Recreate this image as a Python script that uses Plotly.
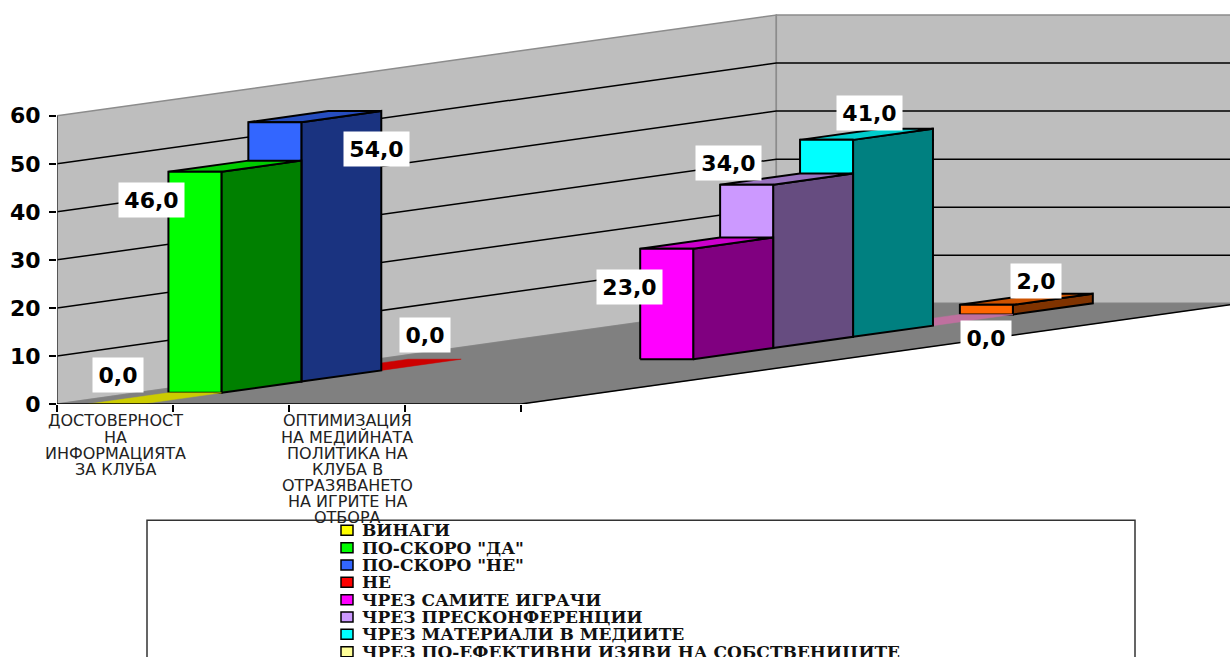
import plotly.graph_objects as go

# Survey results: one group of series per question, each series in its own depth row
category_labels = [
    ["ДОСТОВЕРНОСТ", "НА", "ИНФОРМАЦИЯТА", "ЗА КЛУБА"],
    ["ОПТИМИЗАЦИЯ", "НА МЕДИЙНАТА", "ПОЛИТИКА НА", "КЛУБА В", "ОТРАЗЯВАНЕТО", "НА ИГРИТЕ НА", "ОТБОРА"],
]
category_slots = [0, 2]
series_names = ["ВИНАГИ", 'ПО-СКОРО "ДА"', 'ПО-СКОРО "НЕ"', "НЕ", "ЧРЕЗ САМИТЕ ИГРАЧИ",
                "ЧРЕЗ ПРЕСКОНФЕРЕНЦИИ", "ЧРЕЗ МАТЕРИАЛИ В МЕДИИТЕ",
                "ЧРЕЗ ПО-ЕФЕКТИВНИ ИЗЯВИ НА СОБСТВЕНИЦИТЕ", "ЧРЕЗ ДРУГИ"]
series_slot = [0, 0, 0, 0, 2, 2, 2, 2, 2]
series_values = [0, 46, 54, 0, 23, 34, 41, 0, 2]
value_ticks = [0, 10, 20, 30, 40, 50, 60]

front_colors = ["#FFFF00", "#00FF00", "#3366FF", "#FF0000", "#FF00FF", "#CC99FF", "#00FFFF", "#FFFF99", "#FF6600"]
side_colors = ["#808000", "#008000", "#1A3380", "#800000", "#800080", "#664C80", "#008080", "#80804C", "#803300"]
top_colors = ["#CCCC00", "#00CC00", "#264DBF", "#CC0000", "#CC00CC", "#9973BF", "#00CCCC", "#BF709F", "#CC5200"]
label_shift = [(3, 29), (-43, -28), (102, -27), (70, 35), (-37, -38), (-18, 22), (43, 27), (80, -12), (50, 24)]

PAGE_W, PAGE_H = 1230, 657
LEFT, BASE = 57, 404.5
UNIT_X, UNIT_Y = 116, 4.81          # pixels per category slot and per value unit
DEPTH_X, DEPTH_Y = 0.689, 2.33      # oblique shift of one depth row, in axis units
ROWS, SLOTS = len(series_values), 4
BAR = 0.457
TOP = value_ticks[-1]


def project(slot, row, value):
    return slot + row * DEPTH_X, value + row * DEPTH_Y


def face(corners):
    pts = [project(*c) for c in corners]
    xs = [p[0] for p in pts] + [pts[0][0]]
    ys = [p[1] for p in pts] + [pts[0][1]]
    return xs, ys


def poly(fig, corners, fill, line="#000000", width=2):
    xs, ys = face(corners)
    fig.add_trace(go.Scatter(x=xs, y=ys, mode="lines", fill="toself", fillcolor=fill,
                             line=dict(color=line, width=width), hoverinfo="skip", showlegend=False))


def px_x(p):
    return (p - LEFT) / (PAGE_W - LEFT)


def px_y(p):
    return (BASE - p) / BASE


fig = go.Figure()

# Walls and floor
poly(fig, [(0, 0, 0), (0, ROWS, 0), (0, ROWS, TOP), (0, 0, TOP)], "#BEBEBE", "#8C8C8C", 1.5)
poly(fig, [(0, ROWS, 0), (SLOTS, ROWS, 0), (SLOTS, ROWS, TOP), (0, ROWS, TOP)], "#BEBEBE", "#8C8C8C", 1.5)
poly(fig, [(0, 0, 0), (SLOTS, 0, 0), (SLOTS, ROWS, 0), (0, ROWS, 0)], "#808080", "#808080", 0.5)

# Gridlines run along the side wall and then across the back wall
for tick in value_ticks[1:-1]:
    xs, ys = zip(*[project(0, 0, tick), project(0, ROWS, tick), project(SLOTS, ROWS, tick)])
    fig.add_trace(go.Scatter(x=xs, y=ys, mode="lines", line=dict(color="#000000", width=1.5),
                             hoverinfo="skip", showlegend=False))

# Front edge of the floor on the right
xs, ys = zip(*[project(SLOTS, 0, 0), project(SLOTS, ROWS, 0)])
fig.add_trace(go.Scatter(x=xs, y=ys, mode="lines", line=dict(color="#000000", width=1.5),
                         hoverinfo="skip", showlegend=False))
fig.add_trace(go.Scatter(x=[0, 0], y=[0, TOP], mode="lines", line=dict(color="#404040", width=1.5),
                         hoverinfo="skip", showlegend=False))

# Bars, farthest row first so nearer ones cover them
for row in reversed(range(ROWS)):
    v = series_values[row]
    a = series_slot[row] + (1 - BAR) / 2
    b = a + BAR
    if v > 0:
        poly(fig, [(b, row, 0), (b, row + 1, 0), (b, row + 1, v), (b, row, v)], side_colors[row])
    poly(fig, [(a, row, v), (b, row, v), (b, row + 1, v), (a, row + 1, v)], top_colors[row],
         "#000000" if v > 0 else top_colors[row], 2 if v > 0 else 0.5)
    if v > 0:
        poly(fig, [(a, row, 0), (b, row, 0), (b, row, v), (a, row, v)], front_colors[row])

annotations = []

# Value labels on white plates
for row, v in enumerate(series_values):
    cx, cy = project(series_slot[row] + 0.5, row, v)
    text = f"{v:.1f}".replace(".", ",")
    annotations.append(dict(x=cx, y=cy, xref="x", yref="y", text=f"<b>{text}</b>", showarrow=False,
                            xshift=label_shift[row][0], yshift=label_shift[row][1],
                            width=63 if v >= 10 else 48, height=32, bgcolor="#FFFFFF",
                            font=dict(family="DejaVu Sans", size=22, color="#000000")))

# Category captions, one annotation per line for a tight line pitch
for slot, lines in zip(category_slots, category_labels):
    for i, line in enumerate(lines):
        annotations.append(dict(x=slot + 0.5, y=px_y(421.5 + i * 16.1), xref="x", yref="paper", text=line,
                                showarrow=False, yanchor="middle",
                                font=dict(family="DejaVu Sans", size=16, color="#222222")))

# Legend box, running off the bottom of the page
shapes = [dict(type="rect", xref="paper", yref="paper", x0=px_x(147), x1=px_x(1135), y0=px_y(700), y1=px_y(521),
               line=dict(color="#333333", width=1.5), fillcolor="#FFFFFF", layer="above")]
for i, name in enumerate(series_names[:8]):
    yc = 531 + i * 17.35
    shapes.append(dict(type="rect", xref="paper", yref="paper", x0=px_x(341), x1=px_x(353),
                       y0=px_y(yc + 5), y1=px_y(yc - 5), fillcolor=front_colors[i],
                       line=dict(color="#000000", width=1.5), layer="above"))
    annotations.append(dict(x=px_x(360), y=px_y(yc), xref="paper", yref="paper", text=f"<b>{name}</b>", showarrow=False,
                            xanchor="left", yanchor="middle",
                            font=dict(family="DejaVu Serif", size=17, color="#111111")))

fig.update_layout(
    width=PAGE_W, height=PAGE_H,
    margin=dict(l=LEFT, r=0, t=0, b=PAGE_H - BASE, pad=0, autoexpand=False),
    paper_bgcolor="#FFFFFF", plot_bgcolor="#FFFFFF", showlegend=False,
    shapes=shapes, annotations=annotations,
    xaxis=dict(range=[0, (PAGE_W - LEFT) / UNIT_X], tickmode="array", tickvals=list(range(SLOTS + 1)),
               ticks="outside", ticklen=7, tickwidth=1.5, tickcolor="#000000", showticklabels=False,
               showgrid=False, zeroline=False, showline=False),
    yaxis=dict(range=[0, BASE / UNIT_Y], tickmode="array", tickvals=value_ticks,
               ticktext=[f"<b>{t}</b>" for t in value_ticks], ticks="outside", ticklen=7, tickwidth=1.5,
               tickcolor="#000000", ticklabelstandoff=4, showgrid=False, zeroline=False, showline=False,
               tickfont=dict(family="DejaVu Sans", size=22, color="#000000")),
)
# Axis baseline along the front of the floor, extended out to the last tick
fig.add_shape(type="line", xref="x", yref="y", x0=0, x1=SLOTS, y0=0, y1=0,
              line=dict(color="#000000", width=1.5), layer="above")

fig.write_html("out.html", config={"displayModeBar": False})
